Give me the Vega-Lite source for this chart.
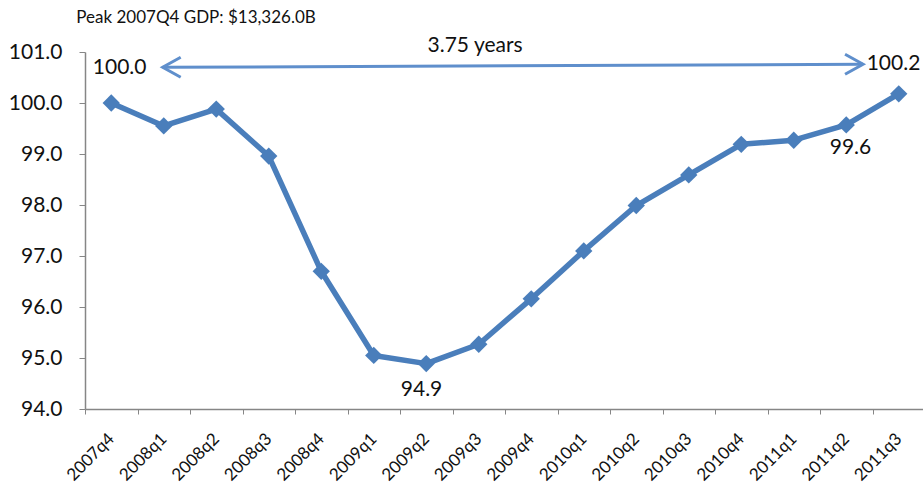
{
  "$schema": "https://vega.github.io/schema/vega-lite/v6.json",
  "width": 840,
  "height": 357,
  "autosize": "none",
  "padding": {"left": 85, "top": 52, "right": 0, "bottom": 80},
  "background": "white",
  "title": {
    "text": "Peak 2007Q4 GDP: $13,326.0B",
    "anchor": "start",
    "dx": 68,
    "offset": 8,
    "font": "Lato",
    "fontSize": 17,
    "fontWeight": "normal",
    "color": "#111111"
  },
  "config": {
    "view": {"stroke": null},
    "font": "Lato"
  },
  "datasets": {
    "gdp": [
      {"q": "2007q4", "v": 100.0},
      {"q": "2008q1", "v": 99.55},
      {"q": "2008q2", "v": 99.88},
      {"q": "2008q3", "v": 98.96},
      {"q": "2008q4", "v": 96.70},
      {"q": "2009q1", "v": 95.05},
      {"q": "2009q2", "v": 94.89},
      {"q": "2009q3", "v": 95.27},
      {"q": "2009q4", "v": 96.16},
      {"q": "2010q1", "v": 97.10},
      {"q": "2010q2", "v": 97.99},
      {"q": "2010q3", "v": 98.59},
      {"q": "2010q4", "v": 99.19},
      {"q": "2011q1", "v": 99.27},
      {"q": "2011q2", "v": 99.57},
      {"q": "2011q3", "v": 100.18}
    ],
    "arrow": [
      {"x1": 0.98, "y1": 100.70, "x2": 14.32, "y2": 100.76}
    ],
    "heads": [
      {"x": 0.98, "y": 100.70, "dir": "left"},
      {"x": 14.32, "y": 100.76, "dir": "right"}
    ],
    "notes": [
      {"x": 0.16, "y": 100.69, "t": "100.0"},
      {"x": 6.93, "y": 101.11, "t": "3.75 years"},
      {"x": 14.90, "y": 100.76, "t": "100.2"},
      {"x": 5.91, "y": 94.38, "t": "94.9"},
      {"x": 14.08, "y": 99.12, "t": "99.6"}
    ]
  },
  "resolve": {"scale": {"x": "independent"}, "axis": {"x": "independent"}},
  "layer": [
    {
      "data": {"name": "gdp"},
      "mark": {"type": "line", "color": "#4a7ebb", "strokeWidth": 5.5, "strokeJoin": "round", "clip": false},
      "encoding": {
        "x": {
          "field": "q", "type": "ordinal", "sort": null,
          "scale": {"type": "point", "padding": 0.5},
          "axis": {
            "title": null,
            "labelAngle": -45,
            "labelAlign": "right",
            "labelBaseline": "middle",
            "labelFontSize": 17,
            "labelColor": "#111111",
            "labelPadding": 22,
            "tickOffset": -26.25,
            "labelOffset": 26.25,
            "tickSize": 5,
            "tickColor": "#868686",
            "domainColor": "#868686",
            "domainWidth": 1.5,
            "grid": false
          }
        },
        "y": {
          "field": "v", "type": "quantitative",
          "scale": {"domain": [94, 101], "nice": false, "zero": false},
          "axis": {
            "title": null,
            "values": [94, 95, 96, 97, 98, 99, 100, 101],
            "format": ".1f",
            "labelFontSize": 21,
            "labelColor": "#111111",
            "labelPadding": 17,
            "tickSize": 6,
            "tickColor": "#868686",
            "domainColor": "#868686",
            "domainWidth": 1.5,
            "grid": false
          }
        }
      }
    },
    {
      "data": {"name": "gdp"},
      "mark": {"type": "point", "shape": "diamond", "filled": true, "color": "#4a7ebb", "size": 300, "opacity": 1, "clip": false},
      "encoding": {
        "x": {"field": "q", "type": "ordinal", "sort": null, "scale": {"type": "point", "padding": 0.5}, "axis": null},
        "y": {"field": "v", "type": "quantitative", "scale": {"domain": [94, 101], "nice": false, "zero": false}}
      }
    },
    {
      "data": {"name": "arrow"},
      "mark": {"type": "rule", "color": "#5f8fcc", "strokeWidth": 3, "clip": false},
      "encoding": {
        "x": {"field": "x1", "type": "quantitative", "scale": {"domain": [-0.5, 15.5], "nice": false, "zero": false}, "axis": null},
        "x2": {"field": "x2"},
        "y": {"field": "y1", "type": "quantitative"},
        "y2": {"field": "y2"}
      }
    },
    {
      "data": {"name": "heads"},
      "mark": {"type": "point", "filled": false, "strokeWidth": 3, "color": "#5f8fcc", "opacity": 1, "size": 400, "clip": false},
      "encoding": {
        "x": {"field": "x", "type": "quantitative", "scale": {"domain": [-0.5, 15.5], "nice": false, "zero": false}, "axis": null},
        "y": {"field": "y", "type": "quantitative"},
        "shape": {
          "field": "dir", "type": "nominal", "legend": null,
          "scale": {"domain": ["left", "right"], "range": ["M 1.8 -1 L 0 0 L 1.8 1", "M -1.8 -1 L 0 0 L -1.8 1"]}
        }
      }
    },
    {
      "data": {"name": "notes"},
      "mark": {"type": "text", "fontSize": 21, "font": "Lato", "color": "#111111", "align": "center", "baseline": "middle", "clip": false},
      "encoding": {
        "x": {"field": "x", "type": "quantitative", "scale": {"domain": [-0.5, 15.5], "nice": false, "zero": false}, "axis": null},
        "y": {"field": "y", "type": "quantitative"},
        "text": {"field": "t", "type": "nominal"}
      }
    }
  ]
}
